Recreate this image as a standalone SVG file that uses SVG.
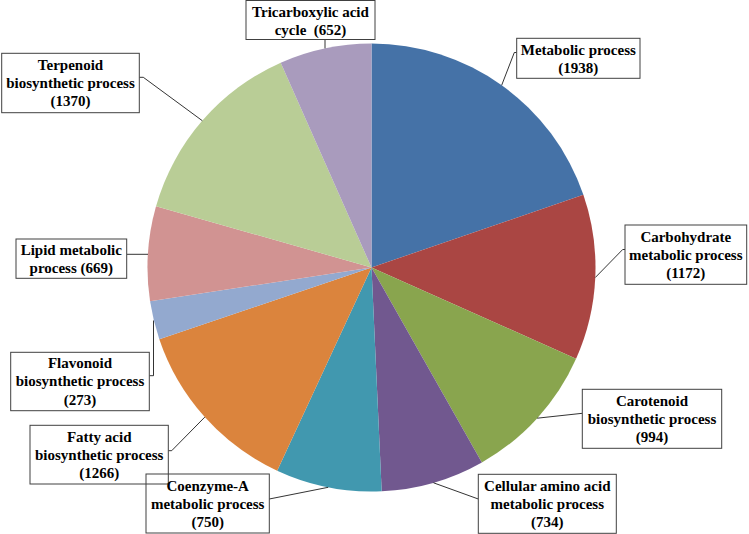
<svg xmlns="http://www.w3.org/2000/svg" width="749" height="534" viewBox="0 0 749 534">
<style>
.box{fill:#ffffff;stroke:#404040;stroke-width:1}
.lbl{font-family:"Liberation Serif","Times New Roman",serif;font-weight:bold;font-size:15px;fill:#000000;text-anchor:middle}
.lead{fill:none;stroke:#000000;stroke-width:0.8}
</style>
<rect x="0" y="0" width="749" height="534" fill="#ffffff"/>
<g id="pie">
<path d="M371.5 267.5 L371.5 43.5 A224 224 0 0 1 583.37 194.8 Z" fill="#4572A7"/>
<path d="M371.5 267.5 L583.37 194.8 A224 224 0 0 1 576.08 358.73 Z" fill="#AA4643"/>
<path d="M371.5 267.5 L576.08 358.73 A224 224 0 0 1 481.86 462.43 Z" fill="#89A54E"/>
<path d="M371.5 267.5 L481.86 462.43 A224 224 0 0 1 381.68 491.27 Z" fill="#71588F"/>
<path d="M371.5 267.5 L381.68 491.27 A224 224 0 0 1 277.19 470.68 Z" fill="#4198AF"/>
<path d="M371.5 267.5 L277.19 470.68 A224 224 0 0 1 159.3 339.25 Z" fill="#DB843D"/>
<path d="M371.5 267.5 L159.3 339.25 A224 224 0 0 1 150.06 301.28 Z" fill="#93A9CF"/>
<path d="M371.5 267.5 L150.06 301.28 A224 224 0 0 1 156.03 206.29 Z" fill="#D19392"/>
<path d="M371.5 267.5 L156.03 206.29 A224 224 0 0 1 280.71 62.72 Z" fill="#B9CD96"/>
<path d="M371.5 267.5 L280.71 62.72 A224 224 0 0 1 371.5 43.5 Z" fill="#A99BBD"/>
</g>
<g id="connectors">
<polyline class="lead" points="325,39.5 325,48.4"/>
<polyline class="lead" points="516.7,52.5 514.3,52.5 501.7,85.2"/>
<polyline class="lead" points="625,249.5 622.7,249.5 595.3,277.5"/>
<polyline class="lead" points="582.3,413.3 537.2,418.2"/>
<polyline class="lead" points="478.3,499 433.5,482.8"/>
<polyline class="lead" points="269.3,499 328.2,487.3"/>
<polyline class="lead" points="168.3,450.7 171.7,450.7 204.8,417.1"/>
<polyline class="lead" points="149.3,375.7 153.5,375.7 153.5,320.5"/>
<polyline class="lead" points="126.7,254.3 148,254.3"/>
<polyline class="lead" points="139.3,77.3 143.3,77.3 202.3,120.7"/>
</g>
<g id="n-tca">
<rect class="box" x="246" y="0.5" width="129" height="39"/>
<text class="lbl" x="310.5" y="17.3">Tricarboxylic acid</text>
<text class="lbl" x="310.5" y="35.3" xml:space="preserve" style="white-space:pre">cycle  (652)</text>
</g>
<g id="n-metabolic">
<rect class="box" x="516.7" y="38.3" width="123.3" height="40"/>
<text class="lbl" x="578.3" y="55">Metabolic process</text>
<text class="lbl" x="578.3" y="72.5">(1938)</text>
</g>
<g id="n-carbohydrate">
<rect class="box" x="625" y="225" width="121.7" height="59.3"/>
<text class="lbl" x="685.8" y="241.5">Carbohydrate</text>
<text class="lbl" x="685.8" y="259.7">metabolic process</text>
<text class="lbl" x="685.8" y="277.9">(1172)</text>
</g>
<g id="n-carotenoid">
<rect class="box" x="582.3" y="389.3" width="139.4" height="59"/>
<text class="lbl" x="652" y="406">Carotenoid</text>
<text class="lbl" x="652" y="424">biosynthetic process</text>
<text class="lbl" x="652" y="442">(994)</text>
</g>
<g id="n-cellular">
<rect class="box" x="478.3" y="474.3" width="138" height="59"/>
<text class="lbl" x="547.3" y="490.5">Cellular amino acid</text>
<text class="lbl" x="547.3" y="508.5">metabolic process</text>
<text class="lbl" x="547.3" y="526.5">(734)</text>
</g>
<g id="n-fatty">
<rect class="box" x="30" y="425.3" width="138.3" height="58.7"/>
<text class="lbl" x="99.2" y="441.8">Fatty acid</text>
<text class="lbl" x="99.2" y="460">biosynthetic process</text>
<text class="lbl" x="99.2" y="478.2">(1266)</text>
</g>
<g id="n-coenzyme">
<rect class="box" x="146" y="474" width="123.3" height="59" style="fill:none"/>
<text class="lbl" x="207.7" y="491">Coenzyme-A</text>
<text class="lbl" x="207.7" y="509">metabolic process</text>
<text class="lbl" x="207.7" y="527">(750)</text>
</g>
<g id="n-flavonoid">
<rect class="box" x="10.7" y="352.3" width="138.6" height="58.4"/>
<text class="lbl" x="80" y="368">Flavonoid</text>
<text class="lbl" x="80" y="386.3">biosynthetic process</text>
<text class="lbl" x="80" y="404.5">(273)</text>
</g>
<g id="n-lipid">
<rect class="box" x="16" y="239" width="110.7" height="39.3"/>
<text class="lbl" x="71.3" y="255.3">Lipid metabolic</text>
<text class="lbl" x="71.3" y="273">process (669)</text>
</g>
<g id="n-terpenoid">
<rect class="box" x="1.7" y="53.3" width="137.6" height="59.4"/>
<text class="lbl" x="70.5" y="70">Terpenoid</text>
<text class="lbl" x="70.5" y="88.2">biosynthetic process</text>
<text class="lbl" x="70.5" y="106.4">(1370)</text>
</g>
</svg>
